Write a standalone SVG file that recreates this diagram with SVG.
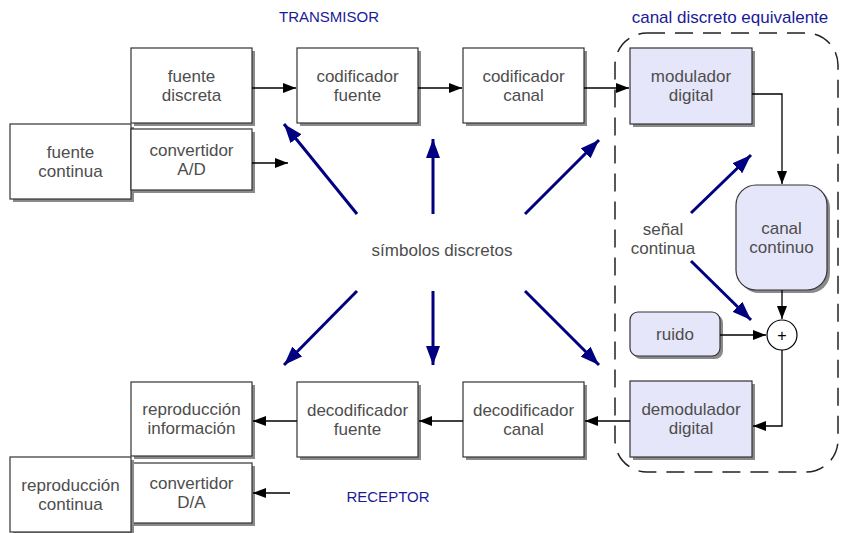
<svg xmlns="http://www.w3.org/2000/svg" width="841" height="533" viewBox="0 0 841 533">
<style>
.bx{fill:#fff;stroke:#333;stroke-width:1.2}
.lv{fill:#e6e6fa;stroke:#333;stroke-width:1.2}
.sh{fill:#8a8a8a}
.t{font-family:"Liberation Sans",Arial,sans-serif;font-size:17px;fill:#4d4d4d;text-anchor:middle}
.h{font-family:"Liberation Sans",Arial,sans-serif;fill:#1a1a99;text-anchor:middle}
.c{fill:none;stroke:#000;stroke-width:1.3}
.b{fill:none;stroke:#000080;stroke-width:3}
</style>
<defs>
<marker id="ah" markerUnits="userSpaceOnUse" markerWidth="14" markerHeight="10" refX="13" refY="5" orient="auto"><path d="M0,0 L13,5 L0,10 z" fill="#000"/></marker>
<marker id="bh" markerUnits="userSpaceOnUse" markerWidth="20" markerHeight="14" refX="19" refY="7" orient="auto"><path d="M0,0 L19,7 L0,14 z" fill="#000080"/></marker>
</defs>
<rect x="0" y="0" width="841" height="533" fill="#fff"/>
<text class="h" x="329" y="22" font-size="15">TRANSMISOR</text>
<text class="h" x="388" y="502" font-size="15">RECEPTOR</text>
<text class="h" x="730" y="23" font-size="17">canal discreto equivalente</text>
<rect id="canal-discreto" x="615" y="33" width="223" height="439" rx="32" ry="32" fill="none" stroke="#222" stroke-width="1.5" stroke-dasharray="18,10"/>
<g id="fuente-continua"><rect class="sh" x="13" y="127" width="121" height="75"/><rect class="bx" x="10" y="124" width="121" height="75"/><text class="t" x="70.5" y="158">fuente</text><text class="t" x="70.5" y="177">continua</text></g>
<g id="fuente-discreta"><rect class="sh" x="134" y="51" width="121" height="75"/><rect class="bx" x="131" y="48" width="121" height="75"/><text class="t" x="191.5" y="82">fuente</text><text class="t" x="191.5" y="101">discreta</text></g>
<g id="convertidor-ad"><rect class="sh" x="134" y="132" width="121" height="61"/><rect class="bx" x="131" y="129" width="121" height="61"/><text class="t" x="191.5" y="156">convertidor</text><text class="t" x="191.5" y="175">A/D</text></g>
<g id="codificador-fuente"><rect class="sh" x="300" y="51" width="121" height="75"/><rect class="bx" x="297" y="48" width="121" height="75"/><text class="t" x="357.5" y="82">codificador</text><text class="t" x="357.5" y="101">fuente</text></g>
<g id="codificador-canal"><rect class="sh" x="466" y="51" width="121" height="75"/><rect class="bx" x="463" y="48" width="121" height="75"/><text class="t" x="523.5" y="82">codificador</text><text class="t" x="523.5" y="101">canal</text></g>
<g id="modulador"><rect class="sh" x="633" y="51" width="122" height="76"/><rect class="lv" x="630" y="48" width="122" height="76"/><text class="t" x="691" y="82">modulador</text><text class="t" x="691" y="101">digital</text></g>
<g id="canal-continuo"><rect class="sh" x="739" y="188" width="91" height="105" rx="20"/><rect class="lv" x="736" y="185" width="91" height="105" rx="20"/><text class="t" x="781.5" y="234">canal</text><text class="t" x="781.5" y="253">continuo</text></g>
<g id="ruido"><rect class="sh" x="633" y="315" width="90" height="44" rx="8"/><rect class="lv" x="630" y="312" width="90" height="44" rx="8"/><text class="t" x="675" y="340">ruido</text></g>
<g id="suma"><circle cx="782" cy="335" r="15" fill="#fff" stroke="#000" stroke-width="1.2"/><text x="782" y="341" font-family="Liberation Sans,Arial,sans-serif" font-size="16" text-anchor="middle" fill="#000">+</text></g>
<g id="demodulador"><rect class="sh" x="633" y="384" width="122" height="76"/><rect class="lv" x="630" y="381" width="122" height="76"/><text class="t" x="691" y="415">demodulador</text><text class="t" x="691" y="434">digital</text></g>
<g id="decodificador-canal"><rect class="sh" x="466" y="385" width="121" height="75"/><rect class="bx" x="463" y="382" width="121" height="75"/><text class="t" x="523.5" y="416">decodificador</text><text class="t" x="523.5" y="435">canal</text></g>
<g id="decodificador-fuente"><rect class="sh" x="300" y="385" width="121" height="75"/><rect class="bx" x="297" y="382" width="121" height="75"/><text class="t" x="357.5" y="416">decodificador</text><text class="t" x="357.5" y="435">fuente</text></g>
<g id="reproduccion-informacion"><rect class="sh" x="134" y="385" width="121" height="74"/><rect class="bx" x="131" y="382" width="121" height="74"/><text class="t" x="191.5" y="415">reproducción</text><text class="t" x="191.5" y="434">información</text></g>
<g id="convertidor-da"><rect class="sh" x="134" y="466" width="121" height="60"/><rect class="bx" x="131" y="463" width="121" height="60"/><text class="t" x="191.5" y="489">convertidor</text><text class="t" x="191.5" y="508">D/A</text></g>
<g id="reproduccion-continua"><rect class="sh" x="13" y="460" width="121" height="75"/><rect class="bx" x="10" y="457" width="121" height="75"/><text class="t" x="70.5" y="491">reproducción</text><text class="t" x="70.5" y="510">continua</text></g>
<g id="etiquetas">
<text class="t" x="442" y="256">símbolos discretos</text>
<text class="t" x="663" y="235">señal</text>
<text class="t" x="663" y="254">continua</text>
</g>
<g id="conectores">
<path class="c" d="M252,88 H296" marker-end="url(#ah)"/>
<path class="c" d="M252,163 H288" marker-end="url(#ah)"/>
<path class="c" d="M418,88 H462" marker-end="url(#ah)"/>
<path class="c" d="M584,88 H629" marker-end="url(#ah)"/>
<path class="c" d="M752,94 H782 V184" marker-end="url(#ah)"/>
<path class="c" d="M782,290 V319" marker-end="url(#ah)"/>
<path class="c" d="M720,335 H766" marker-end="url(#ah)"/>
<path class="c" d="M782,350 V426 H753" marker-end="url(#ah)"/>
<path class="c" d="M630,421 H585" marker-end="url(#ah)"/>
<path class="c" d="M463,421 H419" marker-end="url(#ah)"/>
<path class="c" d="M297,421 H253" marker-end="url(#ah)"/>
<path class="c" d="M290,493 H253" marker-end="url(#ah)"/>
<path class="b" d="M357,214 L284,124" marker-end="url(#bh)"/>
<path class="b" d="M433,214 V139" marker-end="url(#bh)"/>
<path class="b" d="M525,214 L599,140" marker-end="url(#bh)"/>
<path class="b" d="M357,291 L284,365" marker-end="url(#bh)"/>
<path class="b" d="M433,291 V365" marker-end="url(#bh)"/>
<path class="b" d="M525,291 L599,365" marker-end="url(#bh)"/>
<path class="b" d="M691,213 L751,155" marker-end="url(#bh)"/>
<path class="b" d="M691,261 L751,320" marker-end="url(#bh)"/>
</g>
</svg>
